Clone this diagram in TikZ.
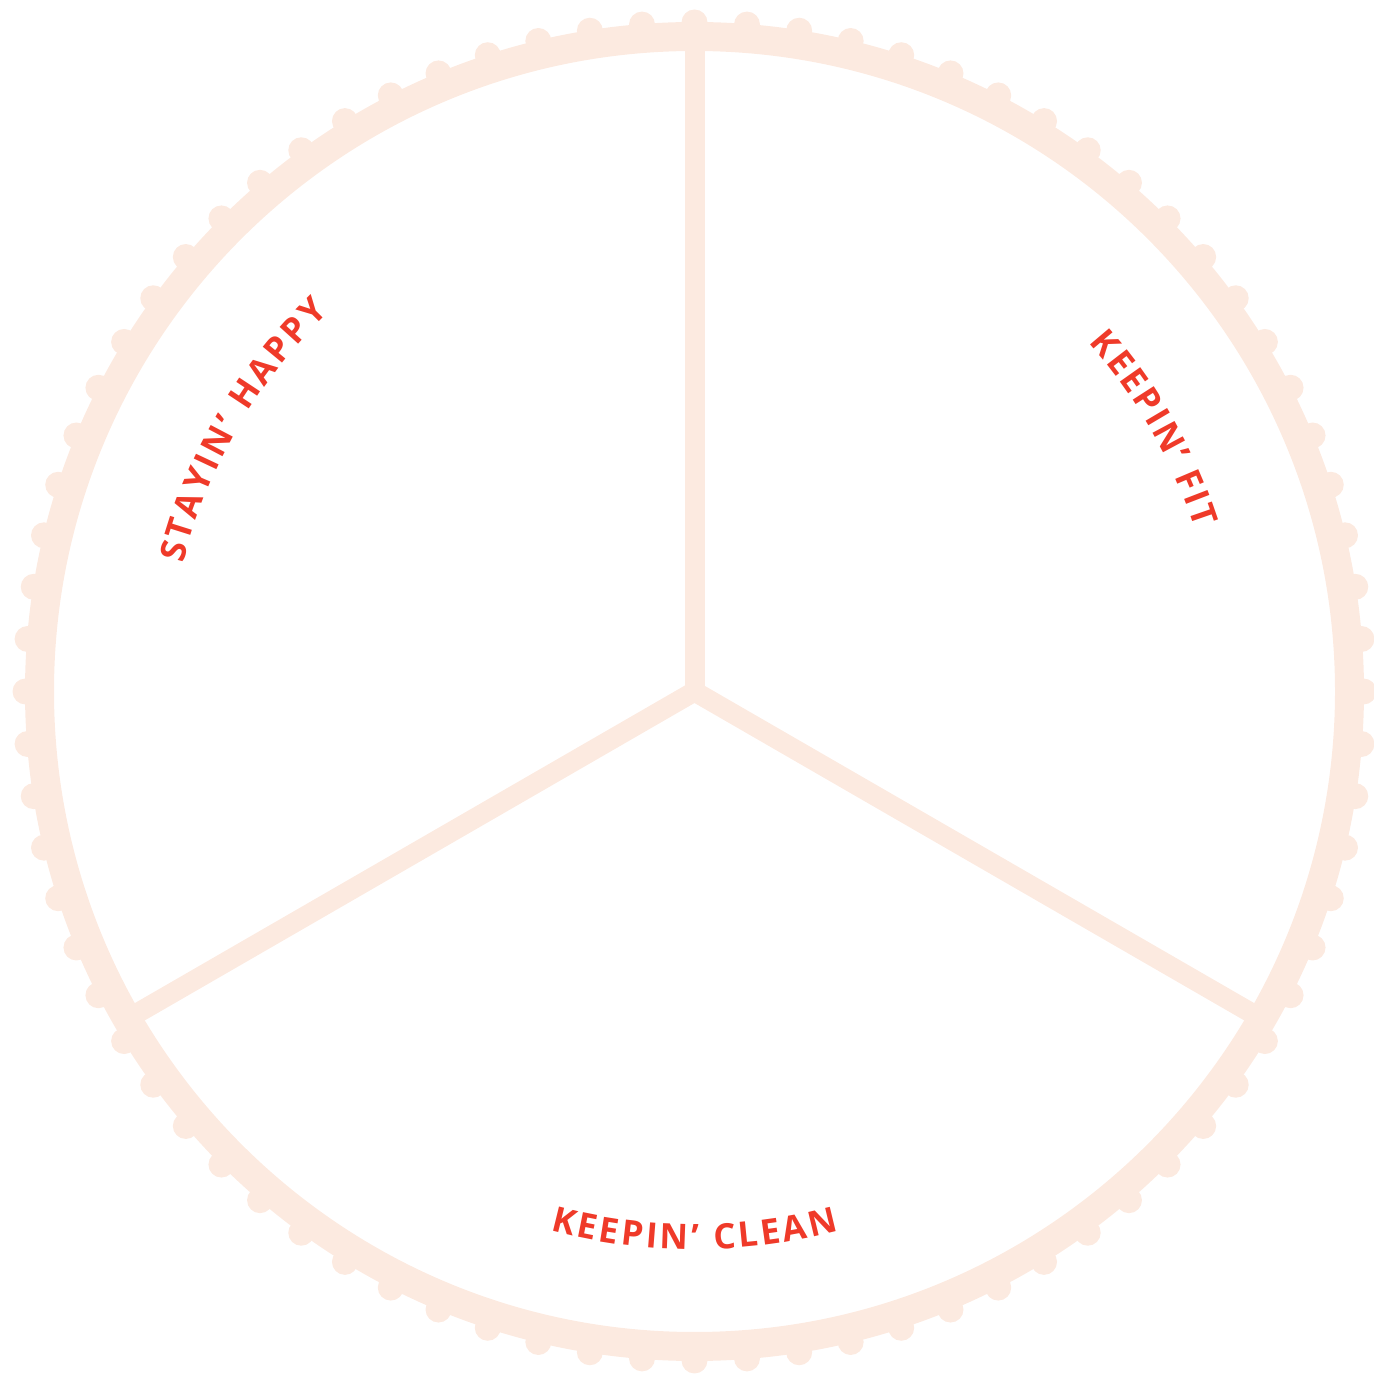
\documentclass[tikz,border=0pt]{standalone}
\usepackage{fontspec}
\newfontfamily\labfont{Open Sans}
\usetikzlibrary{decorations.text}
\definecolor{ringc}{HTML}{FCEAE0}
\definecolor{labc}{HTML}{EF3A29}
\tikzset{
  ring/.style={draw=ringc, line width=29},
  bump/.style={fill=ringc},
  spoke/.style={draw=ringc, line width=20, line join=miter},
  arclabel/.style={decorate, decoration={text along path, text={#1},
     text align=fit to path, text color=labc}}
}
\newcommand{\labfmt}{\labfont\bfseries\fontsize{35}{35}\selectfont}
\begin{document}
\begin{tikzpicture}[x=1pt,y=1pt]
\useasboundingbox (0,0) rectangle (1374,1377);
\coordinate (C) at (694.5,685.5);
\draw[ring] (C) circle (655);
\foreach \i in {0,...,79} \fill[bump] ([shift={(\i*4.5:669)}]C) circle (13);
\coordinate (T) at ([shift={(90:650)}]C);
\coordinate (L) at ([shift={(210:650)}]C);
\coordinate (R) at ([shift={(330:650)}]C);
\path[spoke] (C) -- (T);
\path[spoke] (L) -- (C) -- (R);
\path[arclabel={|\labfmt|KEEPIN’ CLEAN}] ([shift={(255:558)}]C) arc[start angle=255, end angle=285, radius=558];
\path[arclabel={|\labfmt|KEEPIN’ FIT}] ([shift={(41.5:526)}]C) arc[start angle=41.5, end angle=18, radius=526];
\path[arclabel={|\labfmt|STAYIN’ HAPPY}] ([shift={(166:527)}]C) arc[start angle=166, end angle=134, radius=527];
\end{tikzpicture}
\end{document}
